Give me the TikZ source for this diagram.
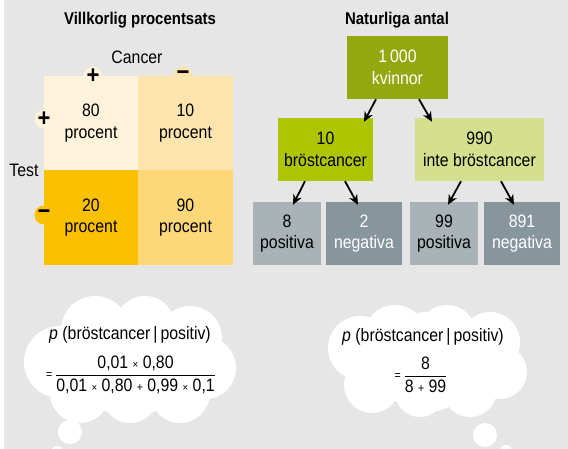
\documentclass[tikz,border=0pt]{standalone}
\usepackage{fontspec}
\usepackage{amsmath}
\setmainfont{Liberation Sans}[FakeStretch=0.88]
\usetikzlibrary{arrows.meta}
\definecolor{bggray}{HTML}{E6E6E6}
\definecolor{cTL}{HTML}{FDF2DA}
\definecolor{cTR}{HTML}{FDE4AC}
\definecolor{cBL}{HTML}{FBC000}
\definecolor{cBR}{HTML}{FDD778}
\definecolor{cTop}{HTML}{93A80E}
\definecolor{cML}{HTML}{ADC502}
\definecolor{cMR}{HTML}{D4E08E}
\definecolor{cLight}{HTML}{A8B2B7}
\definecolor{cDark}{HTML}{87959D}
\tikzset{
  txt/.style={font=\fontsize{18}{21.5}\selectfont, align=center, inner sep=0pt},
  ttl/.style={font=\fontsize{17}{20}\selectfont\bfseries, inner sep=0pt},
  cell/.style={txt, minimum width=#1, minimum height=63pt},
  gcell/.style={txt, minimum width=94.5pt, minimum height=94.5pt},
  signbg/.style={circle, minimum size=19pt, inner sep=0pt},
  signtx/.style={inner sep=0pt, font=\fontsize{25}{25}\selectfont\bfseries},
  arr/.style={line width=1.8pt, -{Stealth[length=10pt,width=9pt]}},
  frac/.style={font=\fontsize{18}{21}\selectfont, inner sep=0pt}
}
\begin{document}
\begin{tikzpicture}[x=1pt,y=-1pt]
\useasboundingbox (0,0) rectangle (568,449);
\fill[white] (0,0) rectangle (568,449);
\fill[bggray] (4,0) rectangle (568,449);

% ---------- left: conditional percentages
\node[ttl] (t1) at (140,20) {Villkorlig procentsats};
\node[txt] (cancer) at (137,57) {Cancer};
\node[txt] (test) at (24,170) {Test};
\node[signbg, fill=cTL] (sp1) at (93,76) {};
\node[signbg, fill=cTR] (sm1) at (183,76) {};
\node[signbg, fill=cTL] (sp2) at (44,119) {};
\node[signbg, fill=cBL] (sm2) at (44,215) {};
\node[gcell, fill=cTL] (tl) at (91,123) {80\\procent};
\node[gcell, fill=cTR] (tr) at (185.5,123) {10\\procent};
\node[gcell, fill=cBL] (bl) at (91,217.5) {20\\procent};
\node[gcell, fill=cBR] (br) at (185.5,217.5) {90\\procent};
\node[signtx] at (sp1) {+};
\node[signtx] at (sm1) {−};
\node[signtx] at (sp2) {+};
\node[signtx] at (sm2) {−};

% ---------- right: natural frequencies
\node[ttl] (t2) at (397,20) {Naturliga antal};
\node[cell=101pt, fill=cTop, text=white] (top) at (397.5,67.5) {1\,000\\kvinnor};
\node[cell=95pt, fill=cML] (ml) at (325.5,149.5) {10\\bröstcancer};
\node[cell=129pt, fill=cMR] (mr) at (479.5,149.5) {990\\inte bröstcancer};
\node[cell=68pt, fill=cLight] (b1) at (287,233.5) {8\\positiva};
\node[cell=76pt, fill=cDark, text=white] (b2) at (364,233.5) {2\\negativa};
\node[cell=68pt, fill=cLight] (b3) at (444,233.5) {99\\positiva};
\node[cell=76pt, fill=cDark, text=white] (b4) at (522,233.5) {891\\negativa};

\draw[arr] ([xshift=-21.5pt]top.south) -- ([xshift=38.5pt,yshift=-4pt]ml.north);
\draw[arr] ([xshift=21.5pt]top.south) -- ([xshift=-47.5pt,yshift=-4pt]mr.north);
\draw[arr] ([xshift=-20.5pt]ml.south) -- ([xshift=6pt,yshift=-3pt]b1.north);
\draw[arr] ([xshift=19.5pt]ml.south) -- ([xshift=-6pt,yshift=-3pt]b2.north);
\draw[arr] ([xshift=-18.5pt]mr.south) -- ([xshift=4pt,yshift=-3pt]b3.north);
\draw[arr] ([xshift=21.5pt]mr.south) -- ([xshift=-8pt,yshift=-3pt]b4.north);

% ---------- clouds
\fill[white]
  (60,362) circle (36) (95,330) circle (34) (145,326) circle (30)
  (190,338) circle (32) (205,368) circle (31) (180,393) circle (30)
  (130,395) circle (28) (80,393) circle (30) (130,362) circle (55)
  (70,432) circle (12) (57,452) circle (6);
\fill[white]
  (360,348) circle (32) (395,336) circle (31) (447,334) circle (29)
  (490,342) circle (30) (500,372) circle (27) (470,390) circle (27)
  (420,392) circle (25) (372,385) circle (28) (427,362) circle (50)
  (485,435) circle (12) (506,451) circle (6);

\node[txt] (pl) at (130,335) {\textit{p} (bröstcancer\,|\,positiv)};
\node[frac] (fl) at (131,375) {$\vcenter{\hbox{\fontsize{12}{12}\selectfont =}}\,\dfrac{\hbox{0,01 {\fontsize{11}{11}\selectfont ×} 0,80}}{\hbox{0,01 {\fontsize{11}{11}\selectfont ×} 0,80 {\fontsize{12}{12}\selectfont +} 0,99 {\fontsize{11}{11}\selectfont ×} 0,1}}$};
\node[txt] (pr) at (423,337) {\textit{p} (bröstcancer\,|\,positiv)};
\node[frac] (fr) at (421,375) {$\vcenter{\hbox{\fontsize{12}{12}\selectfont =}}\,\dfrac{\hbox{8}}{\hbox{8 {\fontsize{12}{12}\selectfont +} 99}}$};
\end{tikzpicture}
\end{document}
